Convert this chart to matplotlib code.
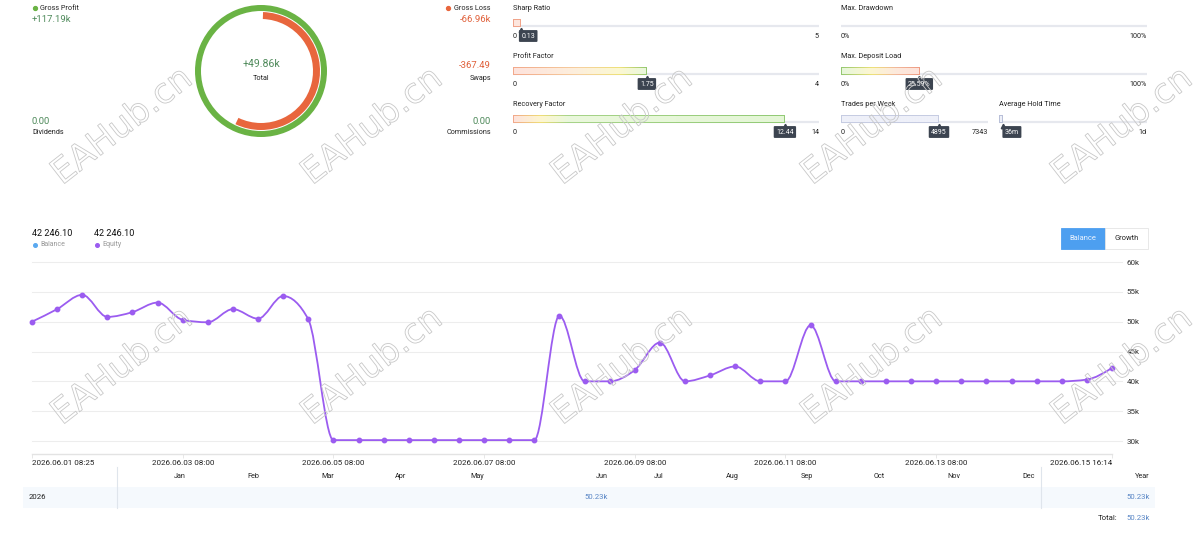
import matplotlib
matplotlib.use('Agg')
import matplotlib.pyplot as plt
import numpy as np
from matplotlib.patches import Rectangle, Wedge, PathPatch
from matplotlib.path import Path
from matplotlib.colors import LinearSegmentedColormap
import matplotlib.patheffects as pe

plt.rcParams['font.family'] = ['Roboto', 'DejaVu Sans']

# ---- data ----
equity = [50.0, 52.1, 54.5, 50.8, 51.6, 53.2, 50.3, 49.9, 52.1, 50.5, 54.3, 50.4,
          30.15, 30.15, 30.15, 30.15, 30.15, 30.15, 30.15, 30.15, 30.15,
          51.0, 40.0, 40.0, 41.9, 46.5, 40.0, 41.0, 42.5, 40.0, 40.0, 49.4,
          40.0, 40.0, 40.0, 40.0, 40.0, 40.0, 40.0, 40.0, 40.0, 40.0,
          40.3, 42.25]
tick_idx = [0, 6, 12, 18, 24, 30, 36, 43]
tick_lbl = ['2026.06.01 08:25', '2026.06.03 08:00', '2026.06.05 08:00', '2026.06.07 08:00',
            '2026.06.09 08:00', '2026.06.11 08:00', '2026.06.13 08:00', '2026.06.15 16:14']
y_ticks = [30, 35, 40, 45, 50, 55, 60]

balance = 42246.10
equity_last = 42246.10

gross_profit = 117.19
gross_loss = -66.96
total = 49.86
swaps = -367.49
dividends = 0.00
commissions = 0.00

g_names = ['Sharp Ratio', 'Profit Factor', 'Recovery Factor', 'Max. Drawdown',
           'Max. Deposit Load', 'Trades per Week', 'Average Hold Time']
g_values = [0.13, 1.75, 12.44, 0.0, 25.59, 4895, 36]
g_max = [5, 4, 14, 100, 100, 7343, 1440]
g_val_text = ['0.13', '1.75', '12.44', '', '25.59%', '4895', '36m']
g_min_text = ['0', '0', '0', '0%', '0%', '0', '']
g_max_text = ['5', '4', '14', '100%', '100%', '7343', '1d']

months = ['Jan', 'Feb', 'Mar', 'Apr', 'May', 'Jun', 'Jul', 'Aug', 'Sep', 'Oct', 'Nov', 'Dec']
year = '2026'
month_vals = {'Jun': '50.23k'}
year_val = '50.23k'
total_val = '50.23k'

# ---- layout / styles ----
W, H = 1200, 546
purple = '#9b5cf0'
green = '#6ab344'
orange = '#e8663d'
txt_green = '#4f8a5b'
txt_red = '#e0603a'
dark = '#3c4450'

fig = plt.figure(figsize=(W / 100, H / 100), dpi=100)
bg = fig.add_axes([0, 0, 1, 1])
bg.set_xlim(0, W)
bg.set_ylim(H, 0)
bg.axis('off')


def t(x, y, s, size=5.2, color='#222222', ha='left', **kw):
    bg.text(x, y, s, fontsize=size, color=color, ha=ha, va='center', **kw)


# top-left summary
bg.plot(35, 8, 'o', ms=2.8, color=green)
t(40, 8, 'Gross Profit')
t(32, 20, f'+{gross_profit:.2f}k', 6.8, txt_green)
t(32, 121, f'{dividends:.2f}', 6.8, txt_green)
t(32, 133, 'Dividends')

bg.plot(448, 8, 'o', ms=2.8, color=orange)
t(491, 8, 'Gross Loss', ha='right')
t(491, 20, f'{gross_loss:.2f}k', 6.8, txt_red, ha='right')
t(491, 66, f'{swaps:.2f}', 6.8, txt_red, ha='right')
t(491, 78, 'Swaps', ha='right')
t(491, 121, f'{commissions:.2f}', 6.8, txt_green, ha='right')
t(491, 133, 'Commissions', ha='right')

# donut
cx, cy = 261, 71
bg.add_patch(Wedge((cx, cy), 66, 0, 360, width=6, color=green, lw=0))
span = 360 * abs(gross_loss) / gross_profit
bg.add_patch(Wedge((cx, cy), 59, -88, -90 + span, width=7, color=orange, lw=0))
t(cx, 64, f'+{total:.2f}k', 7.6, txt_green, ha='center')
t(cx, 79, 'Total', ha='center')


# gauges
def grad_rect(x0, x1, y0, y1, stops, z):
    cmap = LinearSegmentedColormap.from_list('g', stops)
    bg.imshow(np.linspace(0, 1, 256)[None, :], cmap=cmap, extent=(x0, x1, y1, y0),
              aspect='auto', zorder=z, interpolation='bilinear')


g_pos = [(513, 819, 26), (513, 819, 74), (513, 819, 122), (841, 1147, 26),
         (841, 1147, 74), (841, 988, 122), (999, 1147, 122)]
g_fill = [
    [(0, '#fde6de'), (1, '#fde6de')],
    [(0, '#fde3dc'), (0.45, '#fdeedd'), (0.8, '#fbf8d2'), (1, '#eaf7dc')],
    [(0, '#fde3dc'), (0.1, '#fdf6d0'), (0.2, '#eaf8dc'), (1, '#e4f6d6')],
    None,
    [(0, '#e6f6da'), (0.35, '#fbf7d2'), (0.7, '#fde9dc'), (1, '#fde2da')],
    [(0, '#eef0f9'), (1, '#eef0f9')],
    [(0, '#eef0f9'), (1, '#eef0f9')],
]
g_edge = [
    [(0, '#f0a48a'), (1, '#f0a48a')],
    [(0, '#f2a98c'), (0.5, '#f6d0a0'), (0.8, '#eee27a'), (1, '#94c872')],
    [(0, '#f2a98c'), (0.1, '#f0de78'), (0.2, '#a8d48a'), (1, '#92ca76')],
    None,
    [(0, '#94c872'), (0.4, '#eee27a'), (0.7, '#f2b89c'), (1, '#ee9c84')],
    [(0, '#c6cce2'), (1, '#c6cce2')],
    [(0, '#b9c0d8'), (1, '#b9c0d8')],
]

for i, name in enumerate(g_names):
    x0, x1, ty = g_pos[i]
    t(x0, ty - 17, name)
    bg.plot([x0, x1], [ty, ty], color='#e6e8ee', lw=1.6, solid_capstyle='butt', zorder=1)
    vx = x0 + (x1 - x0) * g_values[i] / g_max[i]
    if g_fill[i] is not None and vx > x0:
        vx = max(vx, x0 + 4)
        grad_rect(x0, vx, ty - 7, ty + 1, g_edge[i], 2)
        grad_rect(x0 + 1, vx - 1, ty - 6, ty, g_fill[i], 3)
    t(x0, ty + 10, g_min_text[i])
    t(x1, ty + 10, g_max_text[i], ha='right')
    if g_val_text[i]:
        half = len(g_val_text[i]) * 2.3 + 3
        bx = max(vx, x0 + half + 3)
        bg.plot(vx, ty + 3.5, marker='^', ms=3.2, color=dark, zorder=5)
        bg.text(bx, ty + 10, g_val_text[i], fontsize=5, color='white', ha='center',
                va='center', zorder=6,
                bbox=dict(boxstyle='round,pad=0.35,rounding_size=0.15', fc=dark, ec='none'))

bg.set_xlim(0, W)
bg.set_ylim(H, 0)

# legend above chart
fmt = lambda v: f'{v:,.2f}'.replace(',', ' ')
t(32, 233, fmt(balance), 6.6, '#111111')
bg.plot(35, 245, 'o', ms=2.6, color='#5aa9f0')
t(40, 245, 'Balance', 5.0, '#999999')
t(94, 233, fmt(equity_last), 6.6, '#111111')
bg.plot(97, 245, 'o', ms=2.6, color=purple)
t(102, 245, 'Equity', 5.0, '#999999')

# buttons
bg.add_patch(Rectangle((1061, 228), 44, 21, fc='#4d9ff0', ec='#4d9ff0', lw=0.6))
t(1083, 238.5, 'Balance', 5.4, '#eef5ff', ha='center')
bg.add_patch(Rectangle((1105, 228), 43, 21, fc='white', ec='#e4e4e4', lw=0.6))
t(1126.5, 238.5, 'Growth', 5.4, '#222222', ha='center')

# monthly table
bg.add_patch(Rectangle((23, 487), 1132, 21, fc='#f5f9fd', ec='none'))
bg.plot([117, 117], [467, 508], color='#dfe5ec', lw=0.8)
bg.plot([1041, 1041], [467, 508], color='#dfe5ec', lw=0.8)
month_x = [186, 259, 334, 406, 484, 608, 664, 739, 813, 885, 960, 1035]
for m, mx in zip(months, month_x):
    t(mx, 477, m, ha='right')
    if m in month_vals:
        t(mx, 497, month_vals[m], 5.6, '#5a87c6', ha='right')
t(1150, 477, 'Year', ha='right')
t(29, 497, year, 5.6)
t(1150, 497, year_val, 5.6, '#5a87c6', ha='right')
t(1117, 518, 'Total:', 5.6, ha='right')
t(1150, 518, total_val, 5.6, '#5a87c6', ha='right')

# ---- equity chart ----
step = (1112 - 32) / 43
ax = fig.add_axes([32 / W, 1 - 454 / H, (1122 - 32) / W, (454 - 262) / H])
ax.patch.set_alpha(0)
ax.set_xlim(0, (1122 - 32) / step)
ylo = 60 - (454 - 262) / 179 * 30
ax.set_ylim(ylo, 60)
for s in ax.spines.values():
    s.set_visible(False)
ax.set_yticks(y_ticks, [f'{v}k' for v in y_ticks])
ax.yaxis.tick_right()
ax.grid(axis='y', color='#ededed', lw=0.8)
for gl in ax.get_ygridlines():
    gl.set_clip_on(False)
ax.tick_params(axis='y', length=0, pad=3.5, labelsize=5.8, labelcolor='#333333')
ax.set_xticks(tick_idx, tick_lbl)
ax.tick_params(axis='x', length=3, width=0.6, color='#e3e3e3', pad=1.5,
               labelsize=5.8, labelcolor='#222222')
lbls = ax.get_xticklabels()
lbls[0].set_ha('left')
lbls[-1].set_ha('right')
ax.plot([0, 43], [ylo, ylo], color='#e3e3e3', lw=1, clip_on=False)

# smooth line (monotone cubic, like d3 curveMonotoneX)
xs = np.arange(len(equity), dtype=float)
ys = np.array(equity)
n = len(ys)
d = np.diff(ys)
tang = np.zeros(n)
for k in range(1, n - 1):
    s0, s1 = d[k - 1], d[k]
    p = (s0 + s1) / 2
    tang[k] = (np.sign(s0) + np.sign(s1)) * min(abs(s0), abs(s1), 0.5 * abs(p))
tang[0] = (3 * d[0] - tang[1]) / 2
tang[-1] = (3 * d[-1] - tang[-2]) / 2
verts = [(xs[0], ys[0])]
codes = [Path.MOVETO]
for k in range(n - 1):
    verts += [(xs[k] + 1 / 3, ys[k] + tang[k] / 3),
              (xs[k + 1] - 1 / 3, ys[k + 1] - tang[k + 1] / 3),
              (xs[k + 1], ys[k + 1])]
    codes += [Path.CURVE4] * 3
ax.add_patch(PathPatch(Path(verts, codes), fc='none', ec=purple, lw=1.3, zorder=3,
                       clip_on=False))
ax.plot(xs, ys, 'o', ms=3.2, color=purple, zorder=4, clip_on=False)

# watermarks
top = fig.add_axes([0, 0, 1, 1])
top.set_xlim(0, W)
top.set_ylim(H, 0)
top.axis('off')
top.patch.set_alpha(0)
for wy in [126, 366]:
    for wx in [122, 372, 622, 872, 1122]:
        top.text(wx, wy, 'EAHub.cn', fontsize=25, family='DejaVu Sans', color='none',
                 rotation=38, ha='center', va='center', rotation_mode='anchor',
                 path_effects=[pe.Stroke(linewidth=0.6, foreground='#c8c8c8')])

fig.savefig('out.png', dpi=100)
